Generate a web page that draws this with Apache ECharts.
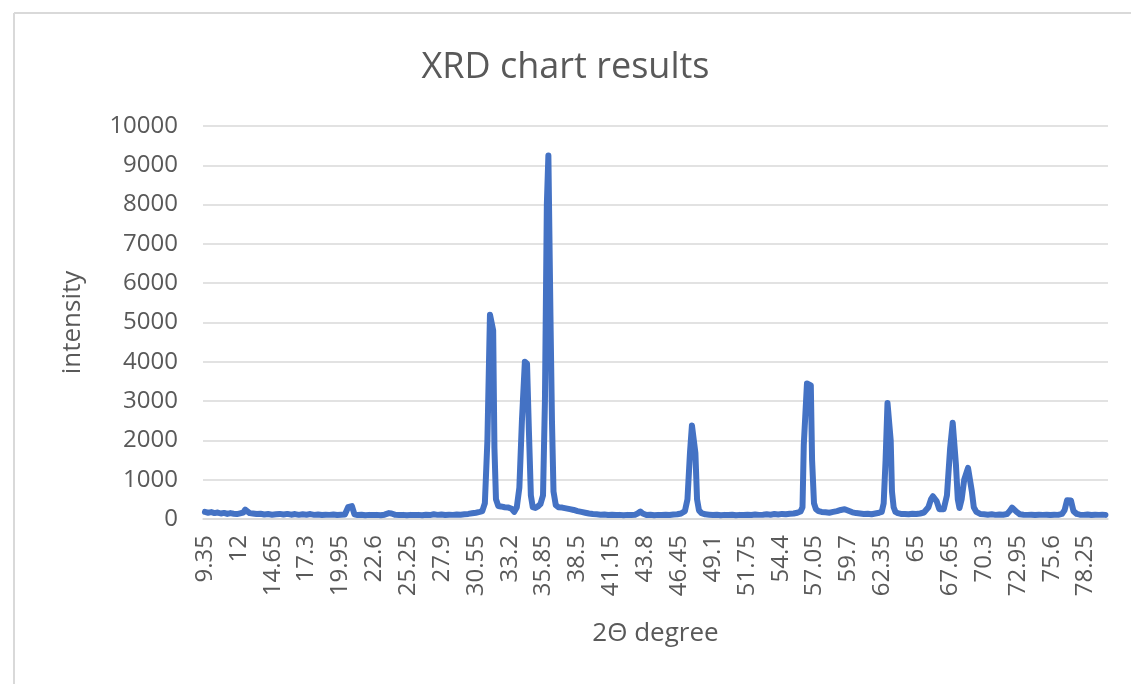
<!DOCTYPE html>
<html>
<head>
<meta charset="utf-8">
<script src="https://cdn.jsdelivr.net/npm/echarts@6/dist/echarts.min.js"></script>
<style>
html,body{margin:0;padding:0;background:#fff;}
#chart{width:1131px;height:684px;}
</style>
</head>
<body>
<div id="chart"></div>
<script>
// 2θ positions (degrees)
var twoTheta = [
  9.35, 9.6, 9.85, 10.1, 10.35, 10.6, 10.85, 11.1, 11.35, 11.6, 11.85, 12.1, 12.35, 12.5, 12.65, 12.85,
  13.1, 13.4, 13.7, 14.0, 14.3, 14.6, 14.9, 15.2, 15.5, 15.8, 16.1, 16.4, 16.7, 17.0, 17.3, 17.6,
  17.9, 18.2, 18.5, 18.8, 19.1, 19.4, 19.7, 20.0, 20.3, 20.55, 20.7, 20.85, 21.05, 21.3, 21.6, 21.9,
  22.2, 22.5, 22.8, 23.1, 23.4, 23.75, 23.95, 24.25, 24.55, 24.85, 25.15, 25.45, 25.75, 26.05, 26.35,
  26.65, 26.95, 27.25, 27.55, 27.85, 28.15, 28.45, 28.75, 29.05, 29.35, 29.65, 29.95, 30.25, 30.55,
  30.85, 31.05, 31.25, 31.45, 31.65, 31.8, 31.9, 32.0, 32.12, 32.3, 32.5, 32.8, 33.1, 33.35, 33.55,
  33.75, 33.95, 34.15, 34.38, 34.55, 34.7, 34.85, 35.0, 35.2, 35.4, 35.6, 35.8, 35.95, 36.1, 36.22,
  36.38, 36.5, 36.62, 36.8, 37.0, 37.3, 37.6, 37.9, 38.2, 38.5, 38.8, 39.1, 39.4, 39.7, 40.0, 40.3,
  40.6, 40.9, 41.2, 41.5, 41.8, 42.1, 42.4, 42.7, 43.0, 43.2, 43.42, 43.6, 43.9, 44.2, 44.5, 44.8,
  45.1, 45.4, 45.7, 46.0, 46.3, 46.6, 46.9, 47.1, 47.3, 47.45, 47.58, 47.72, 47.85, 48.0, 48.2,
  48.5, 48.8, 49.1, 49.4, 49.7, 50.0, 50.3, 50.6, 50.9, 51.2, 51.5, 51.8, 52.1, 52.4, 52.7, 53.0,
  53.3, 53.6, 53.9, 54.2, 54.5, 54.8, 55.1, 55.4, 55.7, 55.95, 56.1, 56.2, 56.45, 56.6, 56.75, 56.85,
  57.0, 57.15, 57.35, 57.6, 57.9, 58.2, 58.5, 58.8, 59.1, 59.4, 59.7, 60.0, 60.3, 60.6, 60.9, 61.2,
  61.5, 61.8, 62.1, 62.3, 62.45, 62.6, 62.75, 62.87, 63.0, 63.1, 63.23, 63.37, 63.55, 63.8, 64.1,
  64.4, 64.7, 65.0, 65.3, 65.6, 65.95, 66.15, 66.3, 66.45, 66.6, 66.8, 66.95, 67.15, 67.4, 67.65,
  67.85, 68.0, 68.1, 68.25, 68.38, 68.55, 68.75, 69.05, 69.2, 69.35, 69.5, 69.7, 70.0, 70.3, 70.6,
  70.9, 71.2, 71.5, 71.8, 72.1, 72.3, 72.5, 72.65, 72.85, 73.1, 73.4, 73.7, 74.0, 74.3, 74.6, 74.9,
  75.2, 75.5, 75.8, 76.1, 76.4, 76.6, 76.8, 76.95, 77.1, 77.3, 77.55, 77.8, 78.1, 78.4, 78.7, 79.0,
  79.3, 79.55, 79.8
];
// intensity values
var intensity = [
  180, 160, 175, 150, 165, 140, 155, 130, 150, 135, 125, 145, 165, 240, 230, 150,
  140, 125, 135, 115, 125, 110, 120, 130, 115, 130, 110, 125, 105, 120, 110, 125,
  105, 115, 100, 110, 105, 115, 100, 110, 115, 300, 350, 330, 120, 100, 110, 95,
  105, 100, 105, 95, 110, 150, 140, 105, 100, 105, 95, 105, 100, 105, 95,
  110, 100, 120, 105, 115, 100, 110, 105, 115, 110, 120, 130, 145, 160,
  180, 200, 400, 2000, 5200, 5200, 4800, 1800, 500, 330, 320, 300, 290, 260, 180,
  300, 800, 2500, 4000, 3950, 2200, 600, 300, 280, 320, 380, 600, 3000, 8000, 9250,
  5200, 2500, 700, 350, 300, 290, 270, 250, 230, 200, 180, 160, 140, 125, 120, 110,
  115, 100, 110, 100, 105, 95, 105, 100, 110, 140, 190, 140, 100, 110, 95, 105,
  100, 110, 100, 115, 120, 140, 200, 500, 1700, 2380, 2350, 1680, 500, 220, 150,
  120, 110, 100, 110, 95, 105, 100, 110, 95, 105, 100, 110, 100, 115, 105, 110,
  120, 110, 125, 115, 130, 120, 135, 140, 160, 190, 300, 1880, 3450, 3450, 3400, 1500,
  400, 250, 200, 180, 170, 160, 180, 200, 230, 250, 210, 170, 150, 140, 130, 135,
  120, 140, 160, 180, 400, 1500, 2950, 2980, 2000, 700, 300, 180, 150, 130, 125,
  120, 135, 125, 140, 165, 300, 500, 580, 590, 450, 250, 200, 250, 600, 1800,
  2450, 2450, 1400, 500, 280, 500, 1000, 1300, 1310, 700, 300, 180, 130, 120, 110,
  120, 105, 115, 110, 125, 200, 290, 280, 180, 120, 110, 105, 110, 100, 110, 105,
  110, 100, 110, 105, 130, 220, 480, 510, 470, 200, 130, 110, 105, 115, 100, 110,
  105, 110, 105
];
var xTickLabels = [9.35, 12, 14.65, 17.3, 19.95, 22.6, 25.25, 27.9, 30.55, 33.2, 35.85, 38.5, 41.15,
  43.8, 46.45, 49.1, 51.75, 54.4, 57.05, 59.7, 62.35, 65, 67.65, 70.3, 72.95, 75.6, 78.25];
var yMax = 10000, yStep = 1000;

var seriesData = twoTheta.map(function (x, i) { return [x, intensity[i]]; });

var chart = echarts.init(document.getElementById('chart'), null, {renderer: 'canvas'});
var textColor = '#595959';
var font = '"Open Sans", "Liberation Sans", sans-serif';
chart.setOption({
  backgroundColor: '#fff',
  animation: false,
  title: {
    text: 'XRD chart results',
    left: 'center',
    top: 45,
    textStyle: {color: textColor, fontSize: 36, fontWeight: 'normal', fontFamily: font}
  },
  graphic: [
    {type: 'line', shape: {x1: 14, y1: 13, x2: 1131, y2: 13}, style: {stroke: '#d9d9d9', lineWidth: 2}},
    {type: 'line', shape: {x1: 14, y1: 13, x2: 14, y2: 684}, style: {stroke: '#d9d9d9', lineWidth: 2}}
  ],
  grid: {left: 203, right: 23, top: 126, bottom: 165, containLabel: false},
  xAxis: {
    type: 'value',
    min: 9.2,
    max: 80,
    name: '2\u0398 degree',
    nameLocation: 'middle',
    nameGap: 102,
    nameTextStyle: {color: textColor, fontSize: 26, fontFamily: font},
    axisLine: {show: true, lineStyle: {color: '#d9d9d9', width: 1.5}},
    axisTick: {show: false},
    splitLine: {show: false},
    axisLabel: {
      customValues: xTickLabels,
      rotate: 90,
      margin: 16,
      color: textColor,
      fontSize: 24,
      fontFamily: font,
      formatter: function (v) { return String(v); }
    }
  },
  yAxis: {
    type: 'value',
    min: 0,
    max: yMax,
    interval: yStep,
    name: 'intensity',
    nameLocation: 'middle',
    nameGap: 117,
    nameTextStyle: {color: textColor, fontSize: 26, fontFamily: font},
    axisLine: {show: false},
    axisTick: {show: false},
    splitLine: {show: true, lineStyle: {color: '#d9d9d9', width: 1.5}},
    axisLabel: {margin: 25, color: textColor, fontSize: 24, fontFamily: font,
      formatter: function (v) { return String(v); }}
  },
  series: [{
    type: 'line',
    data: seriesData,
    showSymbol: false,
    symbol: 'none',
    lineStyle: {color: '#4472C4', width: 6, cap: 'round', join: 'round'},
    z: 3
  }]
});
</script>
</body>
</html>
